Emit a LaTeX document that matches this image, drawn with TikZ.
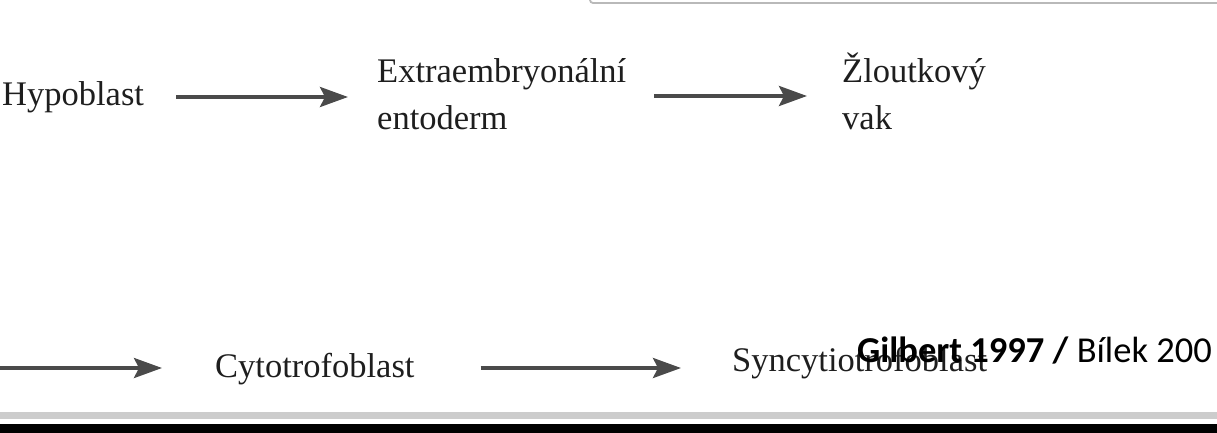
\documentclass[tikz,border=0pt]{standalone}
\usepackage{fontspec}
\setmainfont{Liberation Serif}
\newfontfamily\carlito{Carlito}
\usetikzlibrary{arrows.meta}
\definecolor{inkgray}{HTML}{4A4A4A}
\definecolor{textblack}{HTML}{1E1E1E}
\tikzset{
  lbl/.style={inner sep=0pt, anchor=base west, text=textblack, font=\fontsize{34.5}{47}\selectfont},
  arr/.style={draw=inkgray, line width=3.5pt, -{Stealth[length=28pt, width=20pt, inset=5pt]}},
  credit/.style={inner sep=0pt, anchor=base west, text=black, font=\carlito\fontsize{36.5}{42}\selectfont}
}
\begin{document}
\begin{tikzpicture}[x=1pt, y=-1pt]
\useasboundingbox (0,0) rectangle (1217,433);
% top grey frame
\draw[gray!55, line width=1.8pt, rounded corners=3pt] (590,-10) -- (590,3) -- (1230,3);
% bottom rule and black band
\fill[gray!40] (0,412) rectangle (1217,419);
\fill[black] (0,424) rectangle (1217,433);
% row 1
\node[lbl] (hyp) at (2,106) {Hypoblast};
\node[lbl] (ext) at (377,83) {\vtop{\baselineskip=47pt\hbox{Extraembryonální}\hbox{entoderm}}};
\node[lbl] (zlo) at (842,83) {\vtop{\baselineskip=47pt\hbox{Žloutkový}\hbox{vak}}};
\draw[arr] ([xshift=32pt, yshift=9pt]hyp.base east) -- ([xshift=-29pt, yshift=-14pt]ext.base west);
\draw[arr] ([xshift=28pt, yshift=-13pt]ext.base east) -- ([xshift=-35pt, yshift=-13pt]zlo.base west);
% row 2
\coordinate (left) at (-5,368);
\node[lbl] (cyt) at (215,377) {Cytotrofoblast};
\node[lbl] (syn) at (732,371) {Syncytiotrofoblast};
\draw[arr] (left) -- ([xshift=-53pt, yshift=9pt]cyt.base west);
\draw[arr] ([xshift=66pt, yshift=9pt]cyt.base east) -- ([xshift=-51pt, yshift=3pt]syn.base west);
% credit
\node[credit] (cred) at (857,362) {\textbf{Gilbert 1997 /} Bílek 200};
\end{tikzpicture}
\end{document}
